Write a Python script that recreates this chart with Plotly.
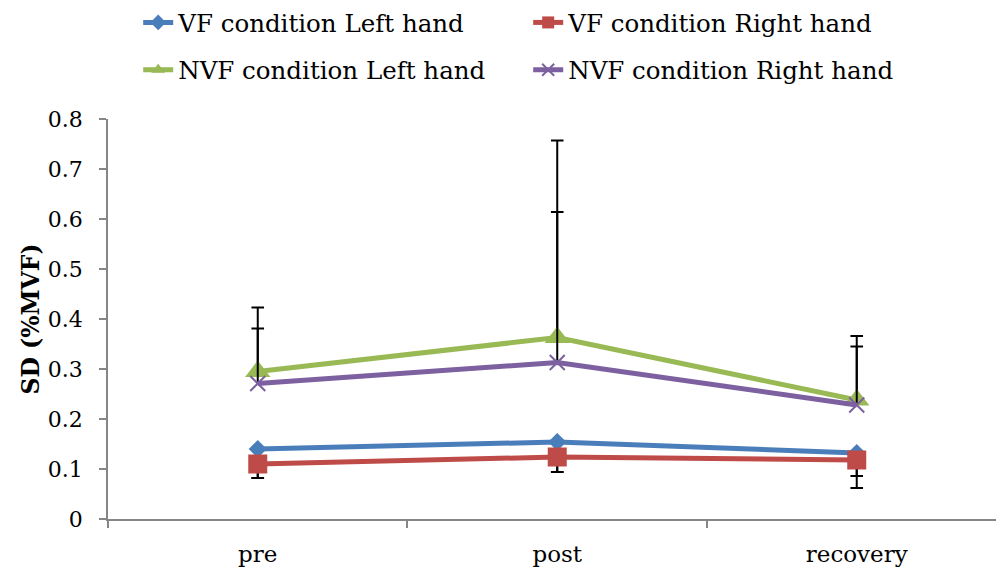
import plotly.graph_objects as go

# Measurement phases
phases = ["pre", "post", "recovery"]

# Mean SD (%MVF) per condition and hand
vf_left = [0.140, 0.154, 0.132]
vf_right = [0.110, 0.124, 0.118]
nvf_left = [0.295, 0.363, 0.238]
nvf_right = [0.271, 0.313, 0.228]

# One-sided error bars (VF drawn downward, NVF drawn upward)
vf_left_err_minus = [0.058, 0.060, 0.046]
vf_right_err_minus = [0.028, 0.030, 0.056]
nvf_left_err_plus = [0.128, 0.394, 0.128]
nvf_right_err_plus = [0.110, 0.301, 0.117]

series = [
    dict(name="VF condition Left hand", y=vf_left, plus=[0, 0, 0], minus=vf_left_err_minus,
         color="#4A7EBB", symbol="diamond", size=14, legend="legend"),
    dict(name="VF condition Right hand", y=vf_right, plus=[0, 0, 0], minus=vf_right_err_minus,
         color="#BE4B48", symbol="square", size=19, legend="legend"),
    dict(name="NVF condition Left hand", y=nvf_left, plus=nvf_left_err_plus, minus=[0, 0, 0],
         color="#98B954", symbol="triangle-up", size=22, legend="legend2"),
    dict(name="NVF condition Right hand", y=nvf_right, plus=nvf_right_err_plus, minus=[0, 0, 0],
         color="#7D60A0", symbol="x-thin-open", size=15, legend="legend2"),
]

SERIF = "DejaVu Serif, serif"
AXIS_GREY = "#868686"

fig = go.Figure()

# Error bar caps (drawn first so the series sit on top)
for s in series:
    cap_y = []
    for v, p, m in zip(s["y"], s["plus"], s["minus"]):
        if p > 0:
            cap_y.append(v + p)
        elif m > 0:
            cap_y.append(v - m)
        else:
            cap_y.append(None)
    fig.add_trace(go.Scatter(
        x=phases, y=cap_y, mode="markers", showlegend=False, hoverinfo="skip",
        marker=dict(symbol="line-ew", size=9, line=dict(color="black", width=2)),
    ))

# Series lines with stems of the error bars
for s in series:
    marker = dict(symbol=s["symbol"], size=s["size"], color=s["color"],
                  line=dict(color=s["color"], width=2 if s["symbol"].startswith("x") else 0))
    fig.add_trace(go.Scatter(
        x=phases, y=s["y"], name=s["name"], mode="lines+markers",
        line=dict(color=s["color"], width=5),
        marker=marker,
        error_y=dict(type="data", symmetric=False, array=s["plus"], arrayminus=s["minus"],
                     width=0, thickness=2, color="black"),
        legend=s["legend"],
    ))

legend_common = dict(
    orientation="h", xanchor="left", yanchor="middle",
    font=dict(family=SERIF, size=24.5, color="black"),
    bgcolor="rgba(0,0,0,0)", entrywidth=345, entrywidthmode="pixels",
    itemsizing="constant",
)

fig.update_layout(
    width=996, height=576,
    margin=dict(l=108, r=0, t=118, b=57),
    paper_bgcolor="white", plot_bgcolor="white",
    font=dict(family=SERIF, size=22, color="black"),
    showlegend=True,
    legend=dict(x=0.034, y=1.242, **legend_common),
    legend2=dict(x=0.034, y=1.12, **legend_common),
    xaxis=dict(
        type="category", range=[-0.5, 2.465],
        showline=True, linecolor=AXIS_GREY, linewidth=1.5,
        ticks="outside", tickson="boundaries", ticklen=7, tickcolor=AXIS_GREY, tickwidth=1.5,
        showgrid=False, zeroline=False,
        tickfont=dict(family=SERIF, size=23, color="black"),
        ticklabelstandoff=14,
    ),
    yaxis=dict(
        range=[0, 0.8], dtick=0.1,
        showline=True, linecolor=AXIS_GREY, linewidth=1.5,
        ticks="outside", ticklen=7, tickcolor=AXIS_GREY, tickwidth=1.5,
        showgrid=False, zeroline=False,
        tickfont=dict(family=SERIF, size=22, color="black"),
        ticklabelstandoff=12,
        title=dict(text="<b>SD (%MVF)</b>", font=dict(family=SERIF, size=23.5, color="black"),
                   standoff=2),
    ),
)

fig.write_html("out.html")
